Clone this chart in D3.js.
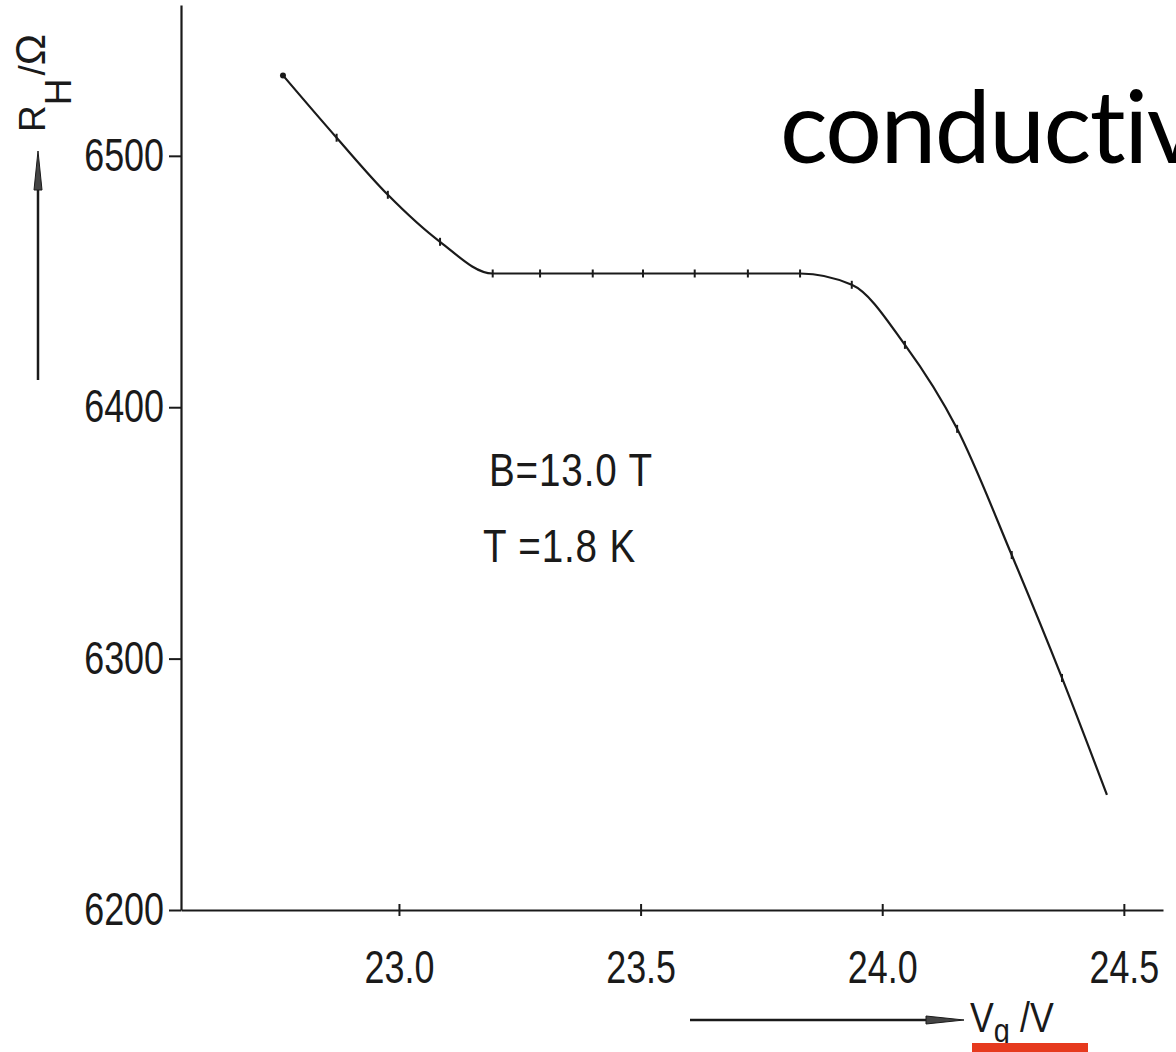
<!DOCTYPE html>
<html>
<head>
<meta charset="utf-8">
<script src="https://cdn.jsdelivr.net/npm/d3@7"></script>
<style>
  html, body { margin: 0; padding: 0; background: #fff; overflow: hidden; }
  svg { display: block; }
  .tech { font-family: "Liberation Sans", Arial, sans-serif; fill: #1a1a1a; }
</style>
</head>
<body>
<svg id="chart" width="1176" height="1052"></svg>
<script>
// values
const gateVoltage = [22.760, 22.871, 22.977, 23.085, 23.194, 23.292, 23.401, 23.505, 23.612,
                     23.722, 23.830, 23.937, 24.047, 24.155, 24.268, 24.372, 24.465];
const hallResistance = [6532.0, 6507.2, 6484.5, 6465.8, 6453.2, 6453.2, 6453.2, 6453.2, 6453.2,
                        6453.2, 6453.2, 6448.7, 6424.8, 6391.4, 6341.2, 6292.3, 6245.8];
const xTicks = [23.0, 23.5, 24.0, 24.5];
const xTickLabels = ["23.0", "23.5", "24.0", "24.5"];
const yTicks = [6200, 6300, 6400, 6500];
const notes = ["B=13.0 T", "T =1.8 K"];
const titleText = "conductiv";

const svg = d3.select("#chart");
const ink = "#1a1a1a";
const narrow = 0.78; // the plotter lettering is narrower than any installed face

// scales
const x = d3.scaleLinear().domain([22.549, 24.581]).range([181, 1163]);
const y = d3.scaleLinear().domain([6200, 6560]).range([910, 5]);

const data = gateVoltage.map((v, i) => ({ v: v, r: hallResistance[i] }));

// axes
const xAxis = svg.append("g")
    .attr("class", "xAxis tech")
    .attr("transform", "translate(0,910)")
    .call(d3.axisBottom(x)
        .tickValues(xTicks)
        .tickFormat((d, i) => xTickLabels[i])
        .tickSize(6)
        .tickSizeOuter(0));

xAxis.select(".domain").attr("stroke", ink).attr("stroke-width", 2.2);
xAxis.selectAll(".tick line").attr("stroke", ink).attr("stroke-width", 2).attr("y1", -6).attr("y2", 6);
xAxis.selectAll(".tick text")
    .attr("fill", ink)
    .attr("y", 40)
    .attr("dy", "0.71em")
    .attr("transform", "scale(" + narrow + ",1)")
    .style("font-family", "'Liberation Sans', Arial, sans-serif")
    .style("font-size", "46px");

const yAxis = svg.append("g")
    .attr("class", "yAxis tech")
    .attr("transform", "translate(181,0)")
    .call(d3.axisLeft(y)
        .tickValues(yTicks)
        .tickFormat(d3.format("d"))
        .tickSize(12)
        .tickPadding(5)
        .tickSizeOuter(0));

yAxis.select(".domain").attr("stroke", ink).attr("stroke-width", 2.2);
yAxis.selectAll(".tick line").attr("stroke", ink).attr("stroke-width", 2);
yAxis.selectAll(".tick text")
    .attr("fill", ink)
    .attr("x", -17 / narrow)
    .attr("transform", "scale(" + narrow + ",1)")
    .style("font-family", "'Liberation Sans', Arial, sans-serif")
    .style("font-size", "46px");

// curve
const line = d3.line()
    .x(d => x(d.v))
    .y(d => y(d.r))
    .curve(d3.curveMonotoneX);

svg.append("path")
    .datum(data)
    .attr("fill", "none")
    .attr("stroke", ink)
    .attr("stroke-width", 2.2)
    .attr("d", line);

// measurement marks
svg.selectAll("line.mark")
    .data(data.slice(1, -1))
    .enter().append("line")
    .attr("class", "mark")
    .attr("x1", d => x(d.v))
    .attr("x2", d => x(d.v))
    .attr("y1", d => y(d.r) - 4)
    .attr("y2", d => y(d.r) + 4)
    .attr("stroke", ink)
    .attr("stroke-width", 2);

svg.append("circle")
    .attr("cx", x(data[0].v))
    .attr("cy", y(data[0].r))
    .attr("r", 3)
    .attr("fill", ink);

// annotations
const noteScale = 0.84;
svg.selectAll("text.note")
    .data(notes)
    .enter().append("text")
    .attr("class", "note tech")
    .attr("transform", "scale(" + noteScale + ",1)")
    .attr("x", (d, i) => (i === 0 ? 489 : 483) / noteScale)
    .attr("y", (d, i) => 486 + i * 76)
    .style("font-size", "46px")
    .style("letter-spacing", "1px")
    .text(d => d);

// y label with arrow
const yLab = svg.append("text")
    .attr("class", "tech")
    .attr("transform", "translate(45,132) rotate(-90)")
    .style("font-size", "37px");
yLab.append("tspan").text("R");
yLab.append("tspan").attr("dy", 26).text("H");
yLab.append("tspan").attr("dy", -26).attr("dx", 3).text("/");
yLab.append("tspan").style("font-size", "42px").text("Ω");

svg.append("line")
    .attr("x1", 38).attr("x2", 38)
    .attr("y1", 380).attr("y2", 170)
    .attr("stroke", ink).attr("stroke-width", 2.5);
svg.append("path")
    .attr("d", d3.line()([[38, 151], [42, 190], [34, 190]]) + "Z")
    .attr("fill", "#444").attr("stroke", ink).attr("stroke-width", 1);

// x label with arrow
svg.append("line")
    .attr("x1", 690).attr("x2", 930)
    .attr("y1", 1020).attr("y2", 1020)
    .attr("stroke", ink).attr("stroke-width", 2.5);
svg.append("path")
    .attr("d", d3.line()([[964, 1020], [926, 1016], [926, 1024]]) + "Z")
    .attr("fill", "#444").attr("stroke", ink).attr("stroke-width", 1);

const xLab = svg.append("text")
    .attr("class", "tech")
    .attr("transform", "scale(0.85,1)")
    .attr("x", 970 / 0.85)
    .attr("y", 1032)
    .style("font-size", "42px");
xLab.append("tspan").text("V");
xLab.append("tspan").attr("dy", 10).style("font-size", "34px").text("g");
xLab.append("tspan").attr("dy", -10).attr("dx", 12).text("/V");

svg.append("rect")
    .attr("x", 972).attr("y", 1043)
    .attr("width", 116).attr("height", 9)
    .attr("fill", "#e63a1e");

// slide title peeking in at the right edge
svg.append("text")
    .attr("x", 780)
    .attr("y", 163)
    .style("font-family", "Lato, 'Open Sans', sans-serif")
    .style("font-size", "100px")
    .style("letter-spacing", "-1.5px")
    .attr("fill", "#000")
    .text(titleText);
</script>
</body>
</html>
